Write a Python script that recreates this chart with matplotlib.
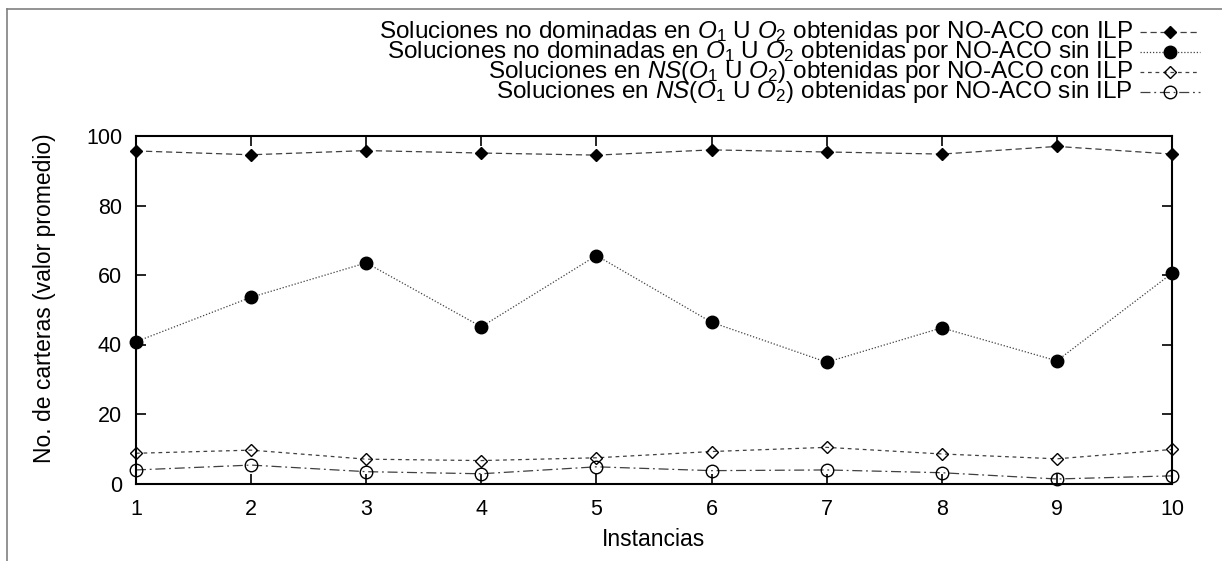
import numpy as np
import matplotlib
matplotlib.use("Agg")
import matplotlib.pyplot as plt
from matplotlib.lines import Line2D

plt.rcParams['font.family'] = ['Liberation Sans', 'DejaVu Sans']
plt.rcParams['mathtext.fontset'] = 'custom'
plt.rcParams['mathtext.rm'] = 'Liberation Sans'
plt.rcParams['mathtext.it'] = 'Liberation Sans:italic'

# datos (valor promedio por instancia)
instancias = [1, 2, 3, 4, 5, 6, 7, 8, 9, 10]
nd_con_ilp = [95.7, 94.6, 95.8, 95.1, 94.5, 96.0, 95.4, 94.8, 97.0, 94.8]
nd_sin_ilp = [40.8, 53.6, 63.5, 45.1, 65.6, 46.4, 34.9, 44.8, 35.3, 60.5]
ns_con_ilp = [8.7, 9.6, 7.0, 6.6, 7.4, 9.2, 10.4, 8.5, 7.1, 9.8]
ns_sin_ilp = [3.9, 5.3, 3.4, 2.8, 4.8, 3.7, 3.9, 3.1, 1.3, 2.2]

labels = [
    r"Soluciones no dominadas en $O_1$ U $O_2$ obtenidas por NO-ACO con ILP",
    r"Soluciones no dominadas en $O_1$ U $O_2$ obtenidas por NO-ACO sin ILP",
    r"Soluciones en $NS$($O_1$ U $O_2$) obtenidas por NO-ACO con ILP",
    r"Soluciones en $NS$($O_1$ U $O_2$) obtenidas por NO-ACO sin ILP",
]

W, H = 1222, 561
fig = plt.figure(figsize=(W / 100, H / 100), dpi=100)
ax = fig.add_axes([136 / W, 1 - 483.5 / H, 1036 / W, 347.5 / H])

lc = '0.25'
estilos = [
    dict(ls=(0, (5, 3)), marker='D', ms=6, mfc='black', mec='black'),
    dict(ls=(0, (1, 1.5)), marker='o', ms=9, mfc='black', mec='black'),
    dict(ls=(0, (3, 3)), marker='D', ms=6.5, mfc='none', mec='black', mew=1.0),
    dict(ls=(0, (8, 3, 1.5, 3)), marker='o', ms=9, mfc='none', mec='black', mew=1.0),
]
series = [nd_con_ilp, nd_sin_ilp, ns_con_ilp, ns_sin_ilp]
for ys, st in zip(series, estilos):
    ax.plot(instancias, ys, color=lc, lw=0.9, clip_on=False, **st)

ax.set_xlim(1, 10)
ax.set_ylim(0, 100)
ax.set_xticks(instancias)
ax.set_yticks(np.arange(0, 101, 20))
ax.tick_params(direction='in', length=7, width=1.2, top=True, right=True,
               labelsize=15.5)
ax.tick_params(axis='y', pad=10)
ax.tick_params(axis='x', pad=11)
for s in ax.spines.values():
    s.set_linewidth(1.5)

ax.set_xlabel("Instancias", fontsize=16.5)
ax.xaxis.label.set_va('center')
ax.xaxis.set_label_coords(0.5, -(540 - 483.5) / 347.5)
ax.set_ylabel("No. de carteras (valor promedio)", fontsize=16.5)
ax.yaxis.label.set_va('center')
ax.yaxis.set_label_coords((45 - 136) / 1036, (483.5 - 298) / 347.5)

# leyenda: texto alineado a la derecha, muestra a la derecha
filas = [32, 52, 72, 92]
for lab, st, yp in zip(labels, estilos, filas):
    yf = 1 - yp / H
    fig.text(1133 / W, yf, lab, ha='right', va='center', fontsize=17.5)
    fig.add_artist(Line2D([1140 / W, 1200 / W], [yf, yf], color=lc, lw=0.9,
                          ls=st['ls']))
    mk = {k: v for k, v in st.items() if k != 'ls'}
    fig.add_artist(Line2D([1170 / W], [yf], lw=0, **mk))

# marco gris
fig.add_artist(Line2D([7 / W, 7 / W], [0, 1 - 9 / H], color='0.5', lw=1.2))
fig.add_artist(Line2D([7 / W, 1], [1 - 9 / H, 1 - 9 / H], color='0.5', lw=1.2))

fig.savefig("out.png", dpi=100)
